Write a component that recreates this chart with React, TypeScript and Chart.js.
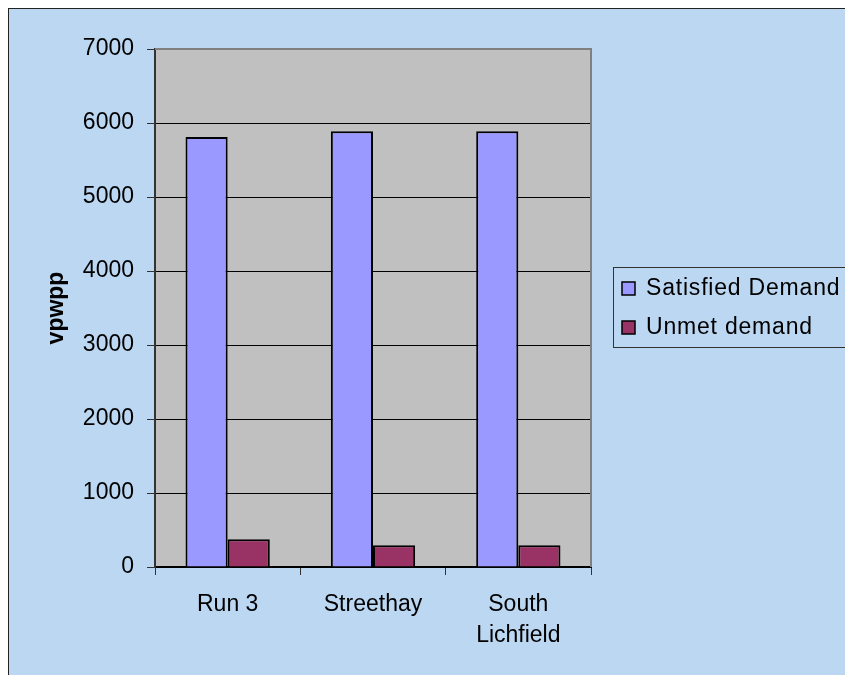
import React, { useEffect, useRef } from "react";
import { Chart, registerables } from "chart.js";

Chart.register(...registerables);

const categories: (string | string[])[] = ["Run 3", "Streethay", ["South", "Lichfield"]];
const satisfiedDemand = [5810, 5890, 5890];
const unmetDemand = [375, 293, 293];
const yTicks = [0, 1000, 2000, 3000, 4000, 5000, 6000, 7000];
const seriesLabels = ["Satisfied Demand", "Unmet demand"];
const seriesColors = ["#9999FF", "#993366"];

const FONT = "'Liberation Sans', Arial, sans-serif";

const plotBg = {
  id: "plotBg",
  beforeDraw(chart: any) {
    const { ctx, chartArea: a } = chart;
    ctx.save();
    ctx.fillStyle = "#C0C0C0";
    ctx.fillRect(a.left, a.top, a.right - a.left, a.bottom - a.top);
    ctx.restore();
  },
  afterDatasetsDraw(chart: any) {
    const { ctx, chartArea: a } = chart;
    ctx.save();
    ctx.strokeStyle = "#808080";
    ctx.lineWidth = 2;
    ctx.beginPath();
    ctx.moveTo(a.left, a.top);
    ctx.lineTo(a.right, a.top);
    ctx.lineTo(a.right, a.bottom);
    ctx.stroke();
    ctx.restore();
  },
};

const boxLegend = {
  id: "boxLegend",
  afterDraw(chart: any) {
    const { ctx } = chart;
    const left = chart.chartArea.right + 22;
    const top = 258;
    const h = 80;
    ctx.save();
    ctx.strokeStyle = "#333333";
    ctx.lineWidth = 1;
    ctx.strokeRect(left + 0.5, top + 0.5, chart.width + 10, h);
    ctx.font = `23px ${FONT}`;
    (ctx as any).letterSpacing = "0.8px";
    ctx.textBaseline = "middle";
    ctx.textAlign = "left";
    chart.data.datasets.forEach((ds: any, i: number) => {
      const cy = top + 21 + i * 39;
      const bx = left + 9;
      ctx.fillStyle = ds.backgroundColor;
      ctx.fillRect(bx, cy - 6, 13, 13);
      ctx.strokeStyle = "#000";
      ctx.lineWidth = 1.5;
      ctx.strokeRect(bx, cy - 6, 13, 13);
      ctx.fillStyle = "#000";
      ctx.fillText(ds.label, bx + 24, cy + 1);
    });
    ctx.restore();
  },
};

export default function App() {
  const ref = useRef<HTMLCanvasElement | null>(null);

  useEffect(() => {
    if (!ref.current) return;
    const chart = new Chart(ref.current, {
      type: "bar",
      data: {
        labels: categories as any,
        datasets: [
          {
            label: seriesLabels[0],
            data: satisfiedDemand,
            backgroundColor: seriesColors[0],
            borderColor: "#000",
            borderWidth: 2,
          },
          {
            label: seriesLabels[1],
            data: unmetDemand,
            backgroundColor: seriesColors[1],
            borderColor: "#000",
            borderWidth: 2,
          },
        ],
      },
      options: {
        responsive: false,
        animation: false,
        devicePixelRatio: 1,
        datasets: { bar: { categoryPercentage: 0.58, barPercentage: 1 } },
        layout: { padding: { top: 40, right: 254, left: 0, bottom: 0 } },
        plugins: {
          legend: { display: false },
          tooltip: { enabled: false },
        },
        scales: {
          x: {
            grid: {
              display: true,
              offset: true,
              drawOnChartArea: false,
              tickLength: 8,
              color: "#333",
            },
            border: { color: "#000", width: 2 },
            ticks: {
              color: "#000",
              font: { family: FONT, size: 23, lineHeight: 1.35 },
              padding: 14,
              maxRotation: 0,
              autoSkip: false,
            },
            afterFit: (s: any) => {
              s.height = 108;
            },
          },
          y: {
            min: 0,
            max: 7000,
            afterBuildTicks: (s: any) => {
              s.ticks = yTicks.map((v) => ({ value: v }));
            },
            grid: {
              color: (c: any) => (c.tick && c.tick.value === 7000 ? "#808080" : "#000"),
              tickColor: "#333",
              tickLength: 8,
              lineWidth: 1,
            },
            border: { color: "#333", width: 2 },
            ticks: {
              color: "#000",
              font: { family: FONT, size: 23 },
              padding: 13,
              callback: (v: any) => String(v),
            },
            title: {
              display: true,
              text: "vpwpp",
              color: "#000",
              font: { family: FONT, size: 23, weight: "bold" },
              padding: { top: 34, bottom: 0 },
            },
            afterFit: (s: any) => {
              s.width = 146;
            },
          },
        },
      },
      plugins: [plotBg, boxLegend],
    });
    return () => chart.destroy();
  }, []);

  return (
    <div
      style={{
        position: "fixed",
        left: 8,
        top: 8,
        right: 0,
        bottom: 0,
        overflow: "hidden",
        background: "#BCD7F2",
        borderLeft: "1px solid #222",
        borderTop: "1px solid #222",
      }}
    >
      <canvas ref={ref} width={836} height={666} style={{ display: "block", width: 836, height: 666 }} />
    </div>
  );
}
